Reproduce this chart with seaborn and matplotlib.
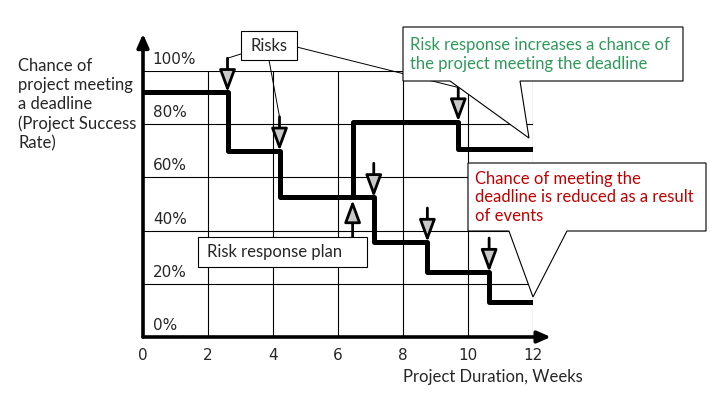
import numpy as np
import pandas as pd
import matplotlib.pyplot as plt
import seaborn as sns
from matplotlib.patches import Polygon

# step curves (weeks, % chance of meeting the deadline)
weeks_base = [0, 2.6, 4.2, 7.1, 8.75, 10.65, 12]
success_base = [92, 70, 52.5, 35.7, 24.4, 13.2, 13.2]
weeks_resp = [6.45, 6.45, 9.7, 12]
success_resp = [52.5, 81, 70.7, 70.7]

x_ticks = [0, 2, 4, 6, 8, 10, 12]
y_ticks = [0, 20, 40, 60, 80, 100]
y_tick_labels = ["0%", "20%", "40%", "60%", "80%", "100%"]

GREEN = "#2e9a5a"
RED = "#c00000"
ARROW_LEN = 12.8


def callout(ax, x0, x1, y0, y1, wedge=None):
    """White box (optionally with a wedge tail on the bottom edge)."""
    pts = [(x0, y1), (x1, y1), (x1, y0)]
    if wedge is not None:
        wb0, wb1, tip = wedge
        pts += [(wb1, y0), tip, (wb0, y0)]
    pts.append((x0, y0))
    ax.add_patch(Polygon(pts, closed=True, fc="white", ec="black", lw=0.8,
                         clip_on=False, zorder=6))


sns.set_style("white")
plt.rcParams["font.family"] = ["Lato", "DejaVu Sans"]

fig = plt.figure(figsize=(7.2, 4.05), dpi=100)
ax = fig.add_axes([143 / 720, 68 / 405, 390 / 720, 266 / 405])

base = pd.DataFrame({"week": weeks_base, "success": success_base})
resp = pd.DataFrame({"week": weeks_resp, "success": success_resp})
for df in (base, resp):
    sns.lineplot(data=df, x="week", y="success", estimator=None, sort=False,
                 drawstyle="steps-post", color="black", lw=3.6, ax=ax, zorder=3)

ax.set(xlabel="", ylabel="")
ax.set_xlim(0, 12)
ax.set_ylim(0, 100)
for s in ax.spines.values():
    s.set_visible(False)
ax.set_xticks(x_ticks)
ax.set_yticks(y_ticks)
ax.grid(True, color="black", lw=0.8)
ax.set_axisbelow(True)
ax.set_xticklabels([str(t) for t in x_ticks], fontfamily="DejaVu Sans", fontsize=11)
ax.tick_params(axis="x", length=0, pad=8)
ax.tick_params(axis="y", length=0, labelleft=False)

for v, lab in zip(y_ticks, y_tick_labels):
    ax.text(0.3, v + 1.5, lab, ha="left", va="bottom", fontsize=11,
            family="DejaVu Sans", zorder=2)

# axis arrows
axis_arrow = dict(arrowstyle="-|>,head_length=0.8,head_width=0.35", color="black",
                  lw=2.6, shrinkA=0, shrinkB=0, mutation_scale=10)
ax.annotate("", xy=(0, 114), xytext=(0, 0), arrowprops=axis_arrow,
            annotation_clip=False, zorder=4)
ax.annotate("", xy=(12.55, 0), xytext=(0, 0), arrowprops=axis_arrow,
            annotation_clip=False, zorder=4)

# risk events: one arrow at each drop of each curve
events = []
for px, py in ((weeks_base, success_base), (weeks_resp, success_resp)):
    for i in range(1, len(px)):
        if py[i] < py[i - 1]:
            events.append((px[i], py[i - 1]))

risk_arrow = dict(arrowstyle="-|>,head_length=1.35,head_width=0.5", fc="#c8c8c8",
                  ec="black", lw=2.0, shrinkA=0, shrinkB=0, mutation_scale=10)
for x, lvl in events:
    ax.annotate("", xy=(x, lvl), xytext=(x, lvl + ARROW_LEN), arrowprops=risk_arrow,
                annotation_clip=False, zorder=5)

# risk response arrow (up)
ax.annotate("", xy=(weeks_resp[0], success_resp[0] - 1), xytext=(weeks_resp[0], 37.6),
            arrowprops=risk_arrow, annotation_clip=False, zorder=5)

# "Risks" box and its leader lines
callout(ax, 3.015, 4.738, 104.1, 115.0)
ax.text(3.88, 109.5, "Risks", ha="center", va="center", fontsize=12, zorder=7)
leaders = [((3.015, 106.4), events[0]), ((3.877, 104.1), events[1]),
           ((4.738, 109.0), events[-1])]
for (sx, sy), (ex, ey) in leaders:
    ax.plot([sx, ex], [sy, ey + ARROW_LEN], color="black", lw=0.7,
            clip_on=False, zorder=2)

# green callout
callout(ax, 8.0, 16.615, 96.24, 116.54, wedge=(9.446, 11.6, (11.877, 74.8)))
ax.text(8.215, 106.2, "Risk response increases a chance of\nthe project meeting the deadline",
        ha="left", va="center", color=GREEN, fontsize=12, linespacing=1.2, zorder=7)

# red callout
callout(ax, 10.0, 17.323, 39.85, 65.41, wedge=(11.26, 13.046, (12.0, 15.04)))
ax.text(10.215, 52.5, "Chance of meeting the\ndeadline is reduced as a result\nof events",
        ha="left", va="center", color=RED, fontsize=12, linespacing=1.2, zorder=7)

# risk response plan box
callout(ax, 1.692, 6.892, 26.32, 37.59)
ax.text(1.97, 32.0, "Risk response plan", ha="left", va="center", fontsize=12, zorder=7)

ax.text(8.0, -15.0, "Project Duration, Weeks", ha="left", va="center", fontsize=12)
fig.text(18 / 720, 1 - 104.5 / 405,
         "Chance of\nproject meeting\na deadline\n(Project Success\nRate)",
         ha="left", va="center", fontsize=12, linespacing=1.25)

fig.savefig("out.png", dpi=100, facecolor="white")
